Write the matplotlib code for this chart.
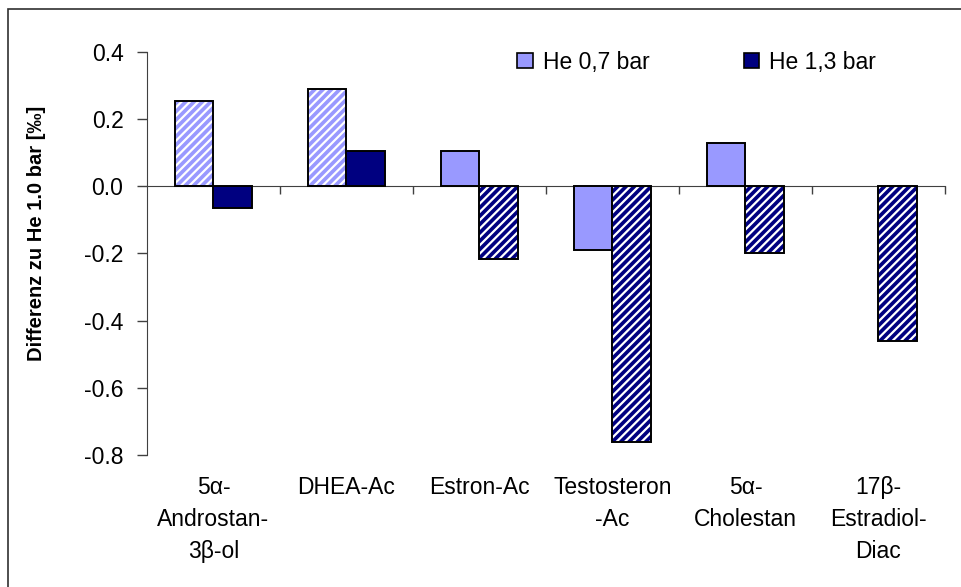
import numpy as np
import matplotlib.pyplot as plt
from matplotlib.patches import Rectangle
from matplotlib.transforms import blended_transform_factory

plt.rcParams['font.family'] = ['Liberation Sans', 'DejaVu Sans']
plt.rcParams['hatch.linewidth'] = 1.6

# Daten
substanzen = ['5α-\nAndrostan-\n3β-ol', 'DHEA-Ac', 'Estron-Ac',
              'Testosteron\n-Ac', '5α-\nCholestan', '17β-\nEstradiol-\nDiac']
he_07 = [0.255, 0.29, 0.105, -0.19, 0.13, np.nan]
he_13 = [-0.065, 0.105, -0.215, -0.76, -0.20, -0.46]
# schraffiert = nicht signifikant
schraffur_07 = [True, True, False, False, False, False]
schraffur_13 = [False, False, True, True, True, True]
y_ticks = [-0.8, -0.6, -0.4, -0.2, 0.0, 0.2, 0.4]
farbe_07 = '#9999FF'
farbe_13 = '#000080'

fs = 16.5

fig = plt.figure(figsize=(9.62, 5.87), dpi=100)
ax = fig.add_axes([0.1528, 0.2249, 0.8295, 0.6865])

x = np.arange(len(substanzen))
w = 0.29


def balken(pos, werte, farbe, schraffur, label):
    for xi, v, h in zip(pos, werte, schraffur):
        if np.isnan(v):
            continue
        if h:
            ax.bar(xi, v, w, color=farbe, edgecolor='white', hatch='////',
                   linewidth=0, zorder=2)
            ax.bar(xi, v, w, fill=False, edgecolor='black', linewidth=1.4, zorder=3)
        else:
            ax.bar(xi, v, w, color=farbe, edgecolor='black', linewidth=1.4, zorder=3)
    ax.bar(np.nan, 0, w, color=farbe, edgecolor='black', linewidth=1.2, label=label)


balken(x - w / 2, he_07, farbe_07, schraffur_07, 'He 0,7 bar')
balken(x + w / 2, he_13, farbe_13, schraffur_13, 'He 1,3 bar')

ax.set_xlim(-0.5, len(substanzen) - 0.5)
ax.set_ylim(-0.8, 0.4)
ax.set_yticks(y_ticks)
ax.set_yticklabels([f'{t:.1f}' for t in y_ticks], fontsize=fs)
ax.tick_params(axis='y', direction='out', length=7, width=1.0, color='#404040', pad=10)

ax.spines['top'].set_visible(False)
ax.spines['right'].set_visible(False)
ax.spines['bottom'].set_position(('data', 0))
ax.spines['bottom'].set_color('#404040')
ax.spines['left'].set_color('#404040')
ax.set_xticks(np.arange(0.5, len(substanzen) - 0.4, 1.0))
ax.set_xticklabels([])
ax.tick_params(axis='x', direction='out', length=6, width=1.0, color='#404040')

trans = blended_transform_factory(ax.transData, ax.transAxes)
for xi, name in zip(x, substanzen):
    ax.text(xi, -0.052, name, transform=trans, ha='center', va='top',
            fontsize=fs, linespacing=1.5)

ax.set_ylabel('Differenz zu He 1.0 bar [‰]', fontsize=14.5, fontweight='bold')
ax.yaxis.set_label_coords(-0.127, 0.55)

ax.legend(loc='center left', bbox_to_anchor=(517 / 962, 1 - 62 / 587),
          bbox_transform=fig.transFigure, ncol=2, frameon=False, borderpad=0,
          borderaxespad=0, fontsize=fs, handlelength=0.68, handleheight=0.68,
          columnspacing=4.1, handletextpad=0.45)

# Rahmen um die Grafik
fig.patches.append(Rectangle((8 / 962, -0.1), 1.2, 1.1 - 9 / 587, transform=fig.transFigure,
                             fill=False, edgecolor='#303030', linewidth=1.2))

fig.savefig('out.png', dpi=100)
